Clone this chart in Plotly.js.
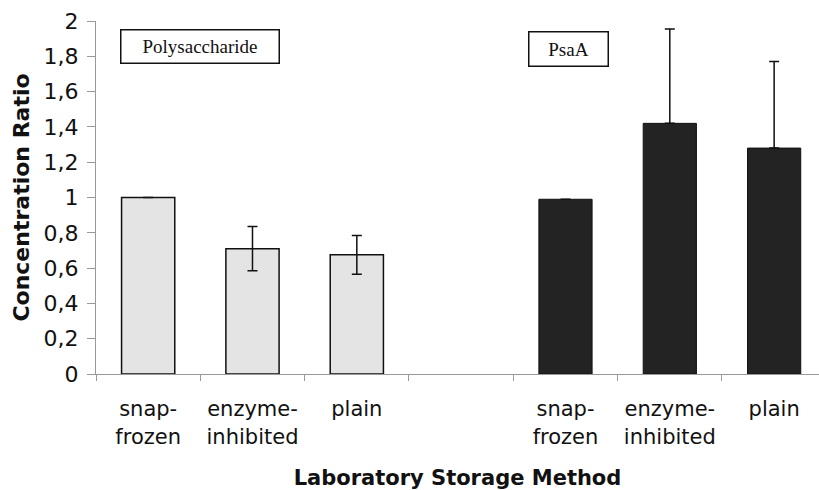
<!DOCTYPE html>
<html>
<head>
<meta charset="utf-8">
<script src="https://cdn.plot.ly/plotly-3.0.1.min.js"></script>
<style>html,body{margin:0;padding:0;background:#fff;}#chart{width:819px;height:490px;}</style>
</head>
<body>
<div id="chart"></div>
<script>
// Category ids (unique) and their displayed labels
const categoryIds = ["S1", "E1", "P1", "gap", "S2", "E2", "P2"];
const categoryLabels = ["snap-<br>frozen", "enzyme-<br>inhibited", "plain", "", "snap-<br>frozen", "enzyme-<br>inhibited", "plain"];

const polyX = ["S1", "E1", "P1"];
const polyValues = [1.0, 0.71, 0.675];
const polyErr = [null, 0.125, 0.11];

const psaX = ["S2", "E2", "P2"];
const psaValues = [0.99, 1.42, 1.28];
const psaErrPlus = [null, 0.535, 0.49];
const psaErrMinus = [null, 0, 0];

const yTickVals = [0, 0.2, 0.4, 0.6, 0.8, 1, 1.2, 1.4, 1.6, 1.8, 2];
const yTickText = ["0", "0,2", "0,4", "0,6", "0,8", "1", "1,2", "1,4", "1,6", "1,8", "2"];

const traces = [
  {
    type: "bar", x: polyX, y: polyValues, name: "Polysaccharide",
    marker: {color: "#e4e4e4", line: {color: "#111", width: 1.5}},
    error_y: {type: "data", array: polyErr, visible: true, color: "#111", thickness: 1.5, width: 5},
    width: 0.51, showlegend: false
  },
  {
    type: "bar", x: psaX, y: psaValues, name: "PsaA",
    marker: {color: "#232323", line: {color: "#111", width: 1}},
    error_y: {type: "data", symmetric: false, array: psaErrPlus, arrayminus: psaErrMinus, visible: true, color: "#111", thickness: 1.5, width: 5},
    width: 0.51, showlegend: false
  }
];

const layout = {
  width: 819, height: 490,
  margin: {l: 96, r: 0, t: 21, b: 115.5},
  paper_bgcolor: "#fff", plot_bgcolor: "#fff",
  barmode: "overlay",
  xaxis: {
    type: "category",
    categoryorder: "array", categoryarray: categoryIds,
    tickmode: "array", tickvals: categoryIds, ticktext: categoryLabels,
    tickson: "boundaries", ticks: "outside", ticklen: 6, tickcolor: "#999",
    ticklabelstandoff: 16,
    range: [-0.5, 6.43],
    showline: true, linecolor: "#999", linewidth: 1,
    showgrid: false, zeroline: false,
    tickfont: {family: "DejaVu Sans", size: 21, color: "#111"},
    title: {text: "Laboratory Storage Method", font: {family: "DejaVu Sans", size: 21, color: "#111", weight: "bold"}, standoff: 26}
  },
  yaxis: {
    range: [0, 2], tickmode: "array", tickvals: yTickVals, ticktext: yTickText,
    ticks: "outside", ticklen: 8, tickcolor: "#999",
    ticklabelstandoff: 4,
    showline: true, linecolor: "#999", linewidth: 1,
    showgrid: false, zeroline: false,
    tickfont: {family: "DejaVu Sans", size: 22, color: "#111"},
    title: {text: "Concentration Ratio", font: {family: "DejaVu Sans", size: 22, color: "#111", weight: "bold"}, standoff: 7}
  },
  annotations: [
    {xref: "paper", yref: "paper", x: 0.1445, y: 0.929, xanchor: "center", yanchor: "middle",
     text: "Polysaccharide", showarrow: false, width: 157, height: 32, borderpad: 0,
     bordercolor: "#111", borderwidth: 1.5, bgcolor: "#fff",
     font: {family: "Liberation Serif, Times New Roman, serif", size: 19, color: "#111"}},
    {xref: "paper", yref: "paper", x: 0.6535, y: 0.922, xanchor: "center", yanchor: "middle",
     text: "PsaA", showarrow: false, width: 78, height: 33, borderpad: 0,
     bordercolor: "#111", borderwidth: 1.5, bgcolor: "#fff",
     font: {family: "Liberation Serif, Times New Roman, serif", size: 19, color: "#111"}}
  ]
};

Plotly.newPlot("chart", traces, layout, {displayModeBar: false, staticPlot: true});
</script>
</body>
</html>
